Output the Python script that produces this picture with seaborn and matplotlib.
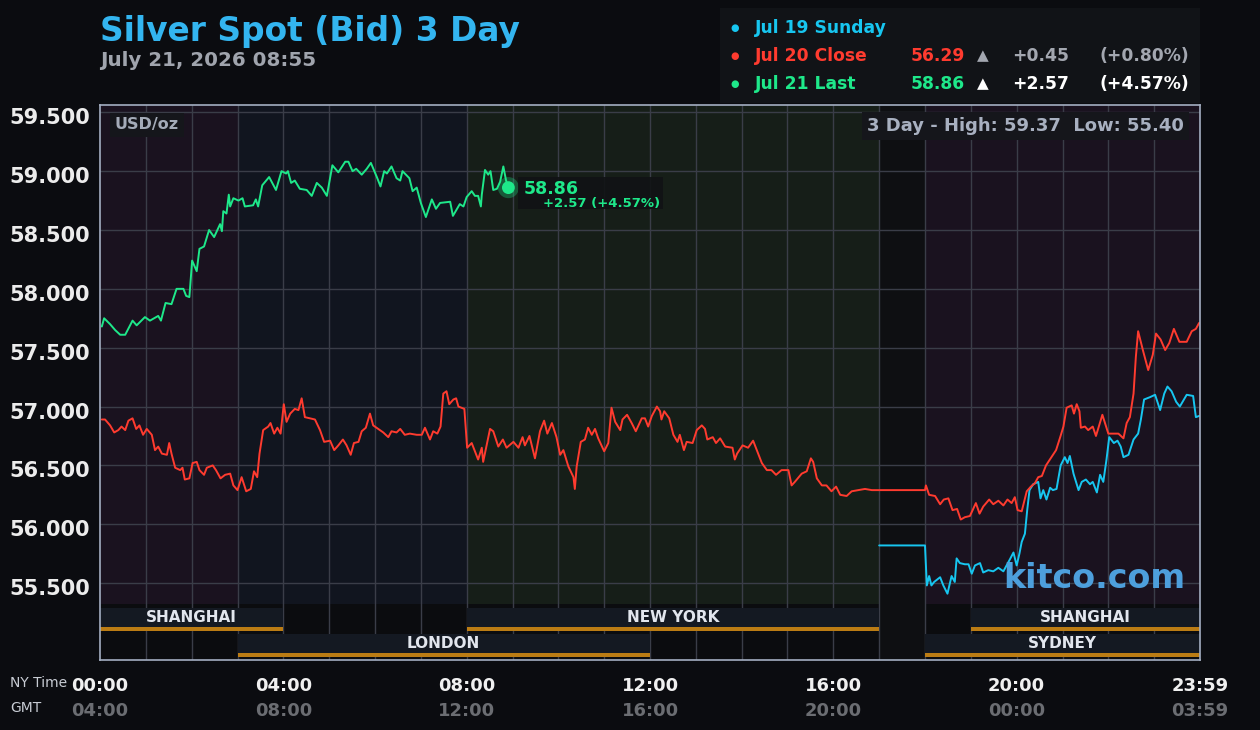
import numpy as np
import pandas as pd
import matplotlib
matplotlib.use("Agg")
import matplotlib.pyplot as plt
import matplotlib.transforms as mtrans
from matplotlib.patches import Rectangle
import seaborn as sns

# ---------------- data ----------------
green_t = [0.04, 0.09, 0.22, 0.33, 0.44, 0.55, 0.71, 0.80, 0.98, 1.09, 1.27, 1.33, 1.43, 1.56, 1.67, 1.82,
           1.88, 1.95, 2.01, 2.11, 2.17, 2.27, 2.38, 2.49, 2.62, 2.66, 2.69, 2.76, 2.81, 2.84, 2.91, 3.02,
           3.11, 3.16, 3.34, 3.40, 3.45, 3.54, 3.69, 3.84, 3.96, 4.06, 4.10, 4.17, 4.25, 4.36, 4.51, 4.62,
           4.73, 4.84, 4.95, 5.07, 5.20, 5.35, 5.42, 5.51, 5.59, 5.71, 5.82, 5.91, 6.04, 6.12, 6.20, 6.26,
           6.36, 6.47, 6.55, 6.60, 6.75, 6.82, 6.91, 7.00, 7.11, 7.24, 7.33, 7.42, 7.64, 7.70, 7.85, 7.93,
           8.00, 8.11, 8.18, 8.25, 8.31, 8.33, 8.40, 8.47, 8.52, 8.58, 8.66, 8.73, 8.80, 8.86, 8.91]
green_v = [57.68, 57.75, 57.70, 57.65, 57.61, 57.61, 57.73, 57.69, 57.76, 57.73, 57.77, 57.73, 57.88, 57.87, 58.00, 58.00,
           57.94, 57.93, 58.24, 58.15, 58.34, 58.36, 58.50, 58.44, 58.55, 58.49, 58.66, 58.64, 58.80, 58.70, 58.77, 58.75,
           58.77, 58.70, 58.71, 58.76, 58.70, 58.88, 58.95, 58.84, 59.00, 58.98, 59.00, 58.90, 58.92, 58.85, 58.84, 58.79,
           58.90, 58.86, 58.79, 59.05, 58.99, 59.08, 59.08, 59.00, 59.02, 58.97, 59.02, 59.07, 58.95, 58.87, 59.00, 58.98,
           59.04, 58.94, 58.92, 59.00, 58.94, 58.83, 58.86, 58.73, 58.61, 58.76, 58.68, 58.73, 58.74, 58.62, 58.72, 58.70,
           58.78, 58.83, 58.79, 58.79, 58.70, 58.80, 59.01, 58.97, 59.00, 58.84, 58.85, 58.91, 59.04, 58.92, 58.86]

red_t = [0.04, 0.11, 0.22, 0.31, 0.40, 0.47, 0.55, 0.62, 0.71, 0.79, 0.86, 0.94, 1.02, 1.13, 1.20, 1.27,
         1.35, 1.46, 1.51, 1.56, 1.64, 1.75, 1.80, 1.85, 1.95, 2.02, 2.11, 2.17, 2.27, 2.33, 2.46, 2.53,
         2.63, 2.73, 2.84, 2.91, 3.00, 3.09, 3.19, 3.29, 3.36, 3.43, 3.48, 3.56, 3.67, 3.72, 3.80, 3.87,
         3.94, 4.01, 4.07, 4.15, 4.25, 4.33, 4.40, 4.47, 4.58, 4.69, 4.80, 4.89, 5.02, 5.11, 5.20, 5.30,
         5.38, 5.47, 5.54, 5.64, 5.71, 5.80, 5.89, 5.96, 6.07, 6.18, 6.29, 6.36, 6.47, 6.55, 6.65, 6.76,
         6.91, 7.02, 7.09, 7.20, 7.27, 7.36, 7.43, 7.49, 7.56, 7.62, 7.71, 7.77, 7.82, 7.95, 8.01, 8.11,
         8.25, 8.33, 8.36, 8.51, 8.58, 8.69, 8.79, 8.87, 9.02, 9.13, 9.22, 9.27, 9.37, 9.49, 9.60, 9.69,
         9.76, 9.86, 9.96, 10.04, 10.11, 10.22, 10.33, 10.36, 10.40, 10.49, 10.58, 10.65, 10.73, 10.80, 10.87, 11.00,
         11.09, 11.16, 11.24, 11.35, 11.40, 11.50, 11.60, 11.69, 11.82, 11.89, 11.96, 12.04, 12.15, 12.22, 12.25, 12.31,
         12.42, 12.51, 12.60, 12.65, 12.74, 12.80, 12.93, 13.02, 13.13, 13.20, 13.25, 13.37, 13.44, 13.53, 13.64, 13.80,
         13.85, 13.90, 14.02, 14.14, 14.25, 14.36, 14.44, 14.55, 14.65, 14.75, 14.87, 15.02, 15.09, 15.16, 15.31, 15.42,
         15.51, 15.56, 15.64, 15.75, 15.85, 15.96, 16.06, 16.15, 16.29, 16.40, 16.55, 16.69, 16.84, 17.00, 18.00, 18.02,
         18.09, 18.22, 18.33, 18.41, 18.51, 18.60, 18.70, 18.78, 18.87, 18.98, 19.11, 19.19, 19.27, 19.40, 19.49, 19.60,
         19.71, 19.80, 19.89, 19.96, 20.02, 20.11, 20.22, 20.31, 20.40, 20.47, 20.55, 20.64, 20.76, 20.86, 20.95, 21.02,
         21.09, 21.20, 21.25, 21.31, 21.37, 21.40, 21.49, 21.56, 21.66, 21.73, 21.87, 22.00, 22.11, 22.22, 22.33, 22.40,
         22.47, 22.55, 22.60, 22.65, 22.76, 22.87, 22.97, 23.04, 23.14, 23.24, 23.33, 23.43, 23.55, 23.71, 23.82, 23.91,
         23.98]
red_v = [56.89, 56.89, 56.84, 56.78, 56.80, 56.83, 56.80, 56.88, 56.90, 56.81, 56.84, 56.76, 56.81, 56.76, 56.63, 56.66,
         56.60, 56.59, 56.69, 56.60, 56.48, 56.46, 56.48, 56.38, 56.39, 56.52, 56.53, 56.46, 56.42, 56.48, 56.50, 56.46,
         56.39, 56.42, 56.43, 56.33, 56.29, 56.40, 56.28, 56.30, 56.45, 56.40, 56.60, 56.80, 56.83, 56.86, 56.77, 56.82,
         56.77, 57.02, 56.87, 56.94, 56.98, 56.97, 57.07, 56.91, 56.90, 56.89, 56.80, 56.70, 56.71, 56.63, 56.67, 56.72,
         56.67, 56.59, 56.69, 56.70, 56.79, 56.82, 56.94, 56.84, 56.81, 56.78, 56.74, 56.79, 56.78, 56.81, 56.76, 56.77,
         56.76, 56.76, 56.82, 56.72, 56.79, 56.77, 56.83, 57.11, 57.13, 57.02, 57.06, 57.07, 57.00, 56.98, 56.65, 56.69,
         56.55, 56.65, 56.53, 56.81, 56.79, 56.66, 56.72, 56.65, 56.70, 56.65, 56.74, 56.67, 56.75, 56.56, 56.79, 56.88,
         56.77, 56.86, 56.74, 56.59, 56.63, 56.49, 56.40, 56.30, 56.49, 56.70, 56.72, 56.82, 56.76, 56.81, 56.73, 56.62,
         56.69, 56.99, 56.87, 56.80, 56.89, 56.93, 56.86, 56.79, 56.90, 56.90, 56.83, 56.92, 57.00, 56.96, 56.89, 56.96,
         56.90, 56.76, 56.70, 56.76, 56.63, 56.70, 56.69, 56.80, 56.84, 56.81, 56.72, 56.74, 56.69, 56.73, 56.66, 56.65,
         56.55, 56.60, 56.67, 56.65, 56.71, 56.60, 56.52, 56.46, 56.46, 56.42, 56.46, 56.46, 56.33, 56.36, 56.43, 56.45,
         56.56, 56.53, 56.39, 56.33, 56.33, 56.28, 56.32, 56.25, 56.24, 56.28, 56.29, 56.30, 56.29, 56.29, 56.29, 56.33,
         56.25, 56.24, 56.17, 56.21, 56.22, 56.12, 56.13, 56.04, 56.06, 56.07, 56.18, 56.09, 56.15, 56.21, 56.17, 56.20,
         56.16, 56.21, 56.18, 56.23, 56.12, 56.11, 56.28, 56.32, 56.35, 56.40, 56.41, 56.50, 56.57, 56.63, 56.74, 56.83,
         56.99, 57.01, 56.94, 57.02, 56.96, 56.82, 56.83, 56.80, 56.83, 56.75, 56.93, 56.77, 56.77, 56.77, 56.73, 56.86,
         56.91, 57.11, 57.42, 57.64, 57.47, 57.31, 57.44, 57.62, 57.57, 57.48, 57.54, 57.66, 57.55, 57.55, 57.64, 57.66,
         57.71]

cyan_t = [17.00, 18.00, 18.04, 18.09, 18.14, 18.20, 18.33, 18.40, 18.49, 18.58, 18.65, 18.69, 18.76, 18.87, 18.95, 19.02,
          19.09, 19.20, 19.27, 19.38, 19.49, 19.60, 19.71, 19.78, 19.85, 19.93, 20.00, 20.06, 20.11, 20.18, 20.23, 20.28,
          20.36, 20.47, 20.52, 20.58, 20.65, 20.73, 20.79, 20.87, 20.96, 21.05, 21.11, 21.16, 21.24, 21.35, 21.42, 21.51,
          21.60, 21.66, 21.75, 21.82, 21.89, 21.96, 22.02, 22.12, 22.20, 22.27, 22.33, 22.44, 22.55, 22.65, 22.71, 22.78,
          22.91, 23.02, 23.13, 23.22, 23.29, 23.38, 23.48, 23.56, 23.71, 23.85, 23.91, 23.98]
cyan_v = [55.82, 55.82, 55.48, 55.56, 55.48, 55.51, 55.55, 55.48, 55.41, 55.56, 55.51, 55.71, 55.67, 55.66, 55.66, 55.58,
          55.65, 55.67, 55.59, 55.61, 55.60, 55.63, 55.60, 55.65, 55.70, 55.76, 55.65, 55.75, 55.85, 55.92, 56.12, 56.29,
          56.34, 56.36, 56.22, 56.29, 56.21, 56.31, 56.29, 56.30, 56.50, 56.57, 56.52, 56.58, 56.43, 56.29, 56.36, 56.38,
          56.34, 56.36, 56.27, 56.42, 56.36, 56.55, 56.74, 56.69, 56.71, 56.66, 56.57, 56.59, 56.72, 56.77, 56.89, 57.06,
          57.08, 57.10, 56.97, 57.11, 57.17, 57.13, 57.04, 57.00, 57.10, 57.09, 56.91, 56.92]

y_ticks = [55.5, 56.0, 56.5, 57.0, 57.5, 58.0, 58.5, 59.0, 59.5]
ny_ticks = [0, 4, 8, 12, 16, 20, 24]
ny_labels = ["00:00", "04:00", "08:00", "12:00", "16:00", "20:00", "23:59"]
gmt_labels = ["04:00", "08:00", "12:00", "16:00", "20:00", "00:00", "03:59"]

# market-hour shading: (start, end, colour)
shade_spans = [(0, 3, "#1a121f"), (3, 8, "#11151f"), (8, 17, "#161e18"), (17, 18, "#0e0f12"), (18, 24, "#1a121f")]
# sessions: (name, start, end, row)
sessions = [("SHANGHAI", 0, 4, 1), ("NEW YORK", 8, 17, 1), ("SHANGHAI", 19, 24, 1),
            ("LONDON", 3, 12, 2), ("SYDNEY", 18, 24, 2)]

legend_rows = [("Jul 19 Sunday", "#17c6f0", None, None, None, None),
               ("Jul 20 Close", "#ff3b2f", "56.29", "+0.45", "(+0.80%)", "#a3a7b0"),
               ("Jul 21 Last", "#1ee88a", "58.86", "+2.57", "(+4.57%)", "#ffffff")]
last_price, last_chg, last_pct = "58.86", "+2.57", "(+4.57%)"
hi_lo_text = "3 Day - High: 59.37  Low: 55.40"

# ---------------- style ----------------
BG = "#0b0c10"
sns.set_theme(style="dark")
plt.rcParams["font.family"] = ["DejaVu Sans"]
plt.rcParams["figure.facecolor"] = BG
plt.rcParams["axes.facecolor"] = "#0b0c0f"

W, H = 1260, 730
fig = plt.figure(figsize=(W / 100, H / 100), dpi=100)
fig.patch.set_facecolor(BG)

L, R, T, B = 100, 1200, 105, 660
ax = fig.add_axes([L / W, 1 - B / H, (R - L) / W, (B - T) / H])

# pixel->value mapping of the price scale (layout only)
def pyv(ypix):
    return 59.5 - (ypix - 112.3) / 117.7

ax.set_xlim(0, 24)
ax.set_ylim(pyv(B), pyv(T))
ax.set_facecolor("#0b0c0f")

price_bottom = pyv(604)
for s, e, c in shade_spans:
    ax.add_patch(Rectangle((s, price_bottom), e - s, pyv(T) - price_bottom, facecolor=c, edgecolor="none", zorder=0))
ax.add_patch(Rectangle((17, pyv(B)), 1, price_bottom - pyv(B), facecolor="#0e0f12", edgecolor="none", zorder=0))

# grid
for h in range(1, 24):
    ax.axvline(h, color="#3a3d48", lw=1, zorder=1)
for v in y_ticks:
    ax.axhline(v, color="#3a3d48", lw=1, zorder=1)
ax.grid(False)

# session bars
row_geom = {1: (608, 631, 627), 2: (634, 657, 653)}
for name, s, e, row in sessions:
    top, bot, otop = row_geom[row]
    ax.add_patch(Rectangle((s, pyv(bot)), e - s, pyv(top) - pyv(bot), facecolor="#141922", edgecolor="none", zorder=2))
    ax.add_patch(Rectangle((s, pyv(bot)), e - s, pyv(otop) - pyv(bot), facecolor="#bb7c14", edgecolor="none", zorder=2.5))
    ax.text((s + e) / 2, pyv((top + otop) / 2 + 0.5), name, ha="center", va="center", color="#e2e6ee",
            fontsize=11, fontweight="bold", zorder=3)

# lines
df_c = pd.DataFrame({"t": cyan_t, "v": cyan_v})
df_r = pd.DataFrame({"t": red_t, "v": red_v})
df_g = pd.DataFrame({"t": green_t, "v": green_v})
sns.lineplot(data=df_c, x="t", y="v", color="#17c6f0", lw=1.4, ax=ax, estimator=None, sort=False, zorder=4)
sns.lineplot(data=df_r, x="t", y="v", color="#ff3b2f", lw=1.4, ax=ax, estimator=None, sort=False, zorder=4)
sns.lineplot(data=df_g, x="t", y="v", color="#1ee88a", lw=1.4, ax=ax, estimator=None, sort=False, zorder=5)

# last point marker + label
ax.scatter([green_t[-1]], [green_v[-1]], s=230, color="#1ee88a", alpha=0.3, edgecolor="none", zorder=6)
ax.scatter([green_t[-1]], [green_v[-1]], s=85, color="#1ee88a", edgecolor="none", zorder=7)
ax.add_patch(Rectangle((green_t[-1] + 10 / 45.83, pyv(209)), 145 / 45.83, pyv(177) - pyv(209),
                       facecolor="#111315", edgecolor="none", alpha=0.92, zorder=6))
ax.text(green_t[-1] + 15 / 45.83, pyv(189), last_price, color="#1ee88a", fontsize=12.5, fontweight="bold",
        va="center", ha="left", zorder=8)
ax.text(green_t[-1] + 35 / 45.83, pyv(204), f"{last_chg} {last_pct}", color="#1ee88a", fontsize=9.5,
        fontweight="bold", va="center", ha="left", zorder=8)

# ticks
ax.set_xticks([])
ax.set_yticks(y_ticks)
ax.set_yticklabels([f"{v:.3f}" for v in y_ticks], fontsize=15, fontweight="bold", color="#ececec")
ax.tick_params(axis="y", length=0, pad=7)
for lab in ax.get_yticklabels():
    lab.set_transform(lab.get_transform() + mtrans.ScaledTranslation(0, -0.04, fig.dpi_scale_trans))
ax.set_xlabel("")
ax.set_ylabel("")
for sp in ax.spines.values():
    sp.set_visible(True)
    sp.set_color("#a4afc2")
    sp.set_linewidth(1.2)
    sp.set_zorder(9)

# bottom time labels
bt = mtrans.blended_transform_factory(ax.transData, fig.transFigure)
for t, a, g in zip(ny_ticks, ny_labels, gmt_labels):
    fig.text(t, 1 - 686 / H, a, transform=bt, ha="center", va="center", color="#f0f0f0", fontsize=13, fontweight="bold")
    fig.text(t, 1 - 711 / H, g, transform=bt, ha="center", va="center", color="#6b6d72", fontsize=13, fontweight="bold")
fig.text(10 / W, 1 - 683 / H, "NY Time", ha="left", va="center", color="#c8ccd4", fontsize=10)
fig.text(10 / W, 1 - 708 / H, "GMT", ha="left", va="center", color="#c8ccd4", fontsize=10)

# in-plot boxes
ax.text(115 / W, 1 - 125 / H, "USD/oz", transform=fig.transFigure, ha="left", va="center", color="#a4abb8",
        fontsize=11.5, fontweight="bold", zorder=8,
        bbox=dict(boxstyle="square,pad=0.3", facecolor="#15161b", edgecolor="none"))
ax.text(1184 / W, 1 - 126 / H, hi_lo_text, transform=fig.transFigure, ha="right", va="center", color="#a8b0c0",
        fontsize=13, fontweight="bold", zorder=8,
        bbox=dict(boxstyle="square,pad=0.3", facecolor="#15161b", edgecolor="none"))
ax.text(1185 / W, 1 - 578 / H, "kitco.com", transform=fig.transFigure, ha="right", va="center", color="#4d9fdc",
        fontsize=24, fontweight="bold", zorder=8)

# title
fig.text(100 / W, 1 - 31 / H, "Silver Spot (Bid) 3 Day", ha="left", va="center", color="#33b5f0",
         fontsize=23.7, fontweight="bold")
fig.text(100 / W, 1 - 61 / H, "July 21, 2026 08:55", ha="left", va="center", color="#a0a4ad",
         fontsize=14.3, fontweight="bold")

# legend panel
fig.patches.append(Rectangle((720 / W, 1 - 103 / H), 480 / W, 95 / H, transform=fig.transFigure,
                             facecolor="#111317", edgecolor="none", zorder=0))
for i, (lab, col, val, chg, pct, ccol) in enumerate(legend_rows):
    y = 1 - (28 + 28 * i) / H
    fig.text(735 / W, y, "●", ha="center", va="center", color=col, fontsize=7)
    fig.text(755 / W, y, lab, ha="left", va="center", color=col, fontsize=12.3, fontweight="bold")
    if val is not None:
        fig.text(965 / W, y, val, ha="right", va="center", color=col, fontsize=12.3, fontweight="bold")
        fig.text(983 / W, y, "▲", ha="center", va="center", color=ccol, fontsize=11)
        fig.text(1069 / W, y, chg, ha="right", va="center", color=ccol, fontsize=12.3, fontweight="bold")
        fig.text(1189 / W, y, pct, ha="right", va="center", color=ccol, fontsize=12.3, fontweight="bold")

fig.savefig("out.png", dpi=100, facecolor=BG)
